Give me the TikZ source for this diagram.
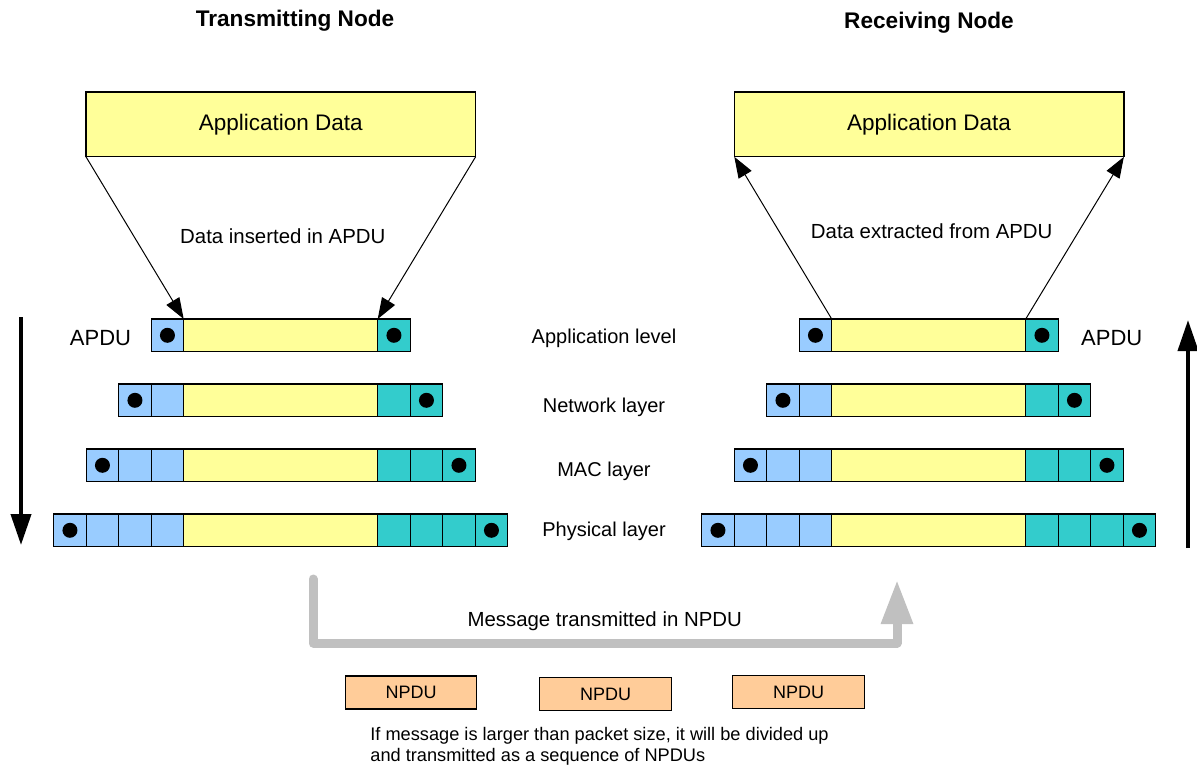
\documentclass[tikz,border=0pt]{standalone}
\usepackage{fontspec}
\setmainfont{Liberation Sans}
\usetikzlibrary{arrows.meta}
\definecolor{hdrblue}{HTML}{99CCFF}
\definecolor{paydata}{HTML}{FFFF99}
\definecolor{trlteal}{HTML}{33CCCC}
\definecolor{npduorange}{HTML}{FFCC99}
\definecolor{flowgray}{HTML}{C0C0C0}

\begin{document}
\begin{tikzpicture}[x=0.5pt,y=-0.5pt,
  cell/.style={draw, line width=0.65pt, minimum width=16.25pt, minimum height=16.3pt,
    inner sep=0pt, outer sep=0pt, anchor=north west},
  hdr/.style={cell, fill=hdrblue},
  trl/.style={cell, fill=trlteal},
  payload/.style={cell, fill=paydata, minimum width=97pt},
  blackdot/.style={circle, fill=black, minimum size=7.5pt, inner sep=0pt},
  databox/.style={draw, line width=0.65pt, fill=paydata, minimum width=194.8pt,
    minimum height=32.4pt, inner sep=0pt, outer sep=0pt, anchor=north west,
    font=\fontsize{11.25pt}{13pt}\selectfont},
  title/.style={anchor=base, inner sep=0pt, font=\fontsize{11.3pt}{13pt}\selectfont\bfseries},
  lbl/.style={anchor=base, inner sep=0pt, font=\fontsize{10pt}{12pt}\selectfont},
  apdu/.style={anchor=base, inner sep=0pt, font=\fontsize{11pt}{13pt}\selectfont},
  npdubox/.style={draw, line width=0.65pt, fill=npduorange, minimum width=65.8pt,
    minimum height=16.4pt, inner sep=0pt, font=\fontsize{9pt}{11pt}\selectfont},
  note/.style={anchor=base west, inner sep=0pt, font=\fontsize{9.1pt}{11pt}\selectfont},
  thinarr/.style={line width=0.5pt, -{Triangle[length=10.5pt,width=7.5pt]}},
  bigarr/.style={line width=2pt, -{Triangle[length=15.5pt,width=10pt]}},
  flowarr/.style={draw=flowgray, line width=4.5pt, line cap=round, line join=round,
    -{Triangle[length=22pt,width=15pt]}}
]
\useasboundingbox (0,0) rectangle (1197,765);

% titles
\node[title] (ttx) at (295,27) {Transmitting Node};
\node[title] (trx) at (929,29) {Receiving Node};

% application data boxes
\node[databox] (appL) at (86,92) {Application Data};
\node[databox] (appR) at (734.3,92) {Application Data};

% protocol data units: header cells, payload, trailer cells for each layer
\foreach \side/\xb in {L/183.7, R/831.7} {
  \foreach \r in {1,...,4} {
    \pgfmathsetmacro\yt{319+65*(\r-1)}
    \node[payload] (\side\r p) at (\xb,\yt) {};
    \foreach \k in {1,...,\r} {
      \node[hdr] (\side\r h\k) at ({\xb-\k*32.5},\yt) {};
      \node[trl] (\side\r t\k) at ({\xb+194+(\k-1)*32.5},\yt) {};
    }
    \node[blackdot] (\side\r hd) at (\side\r h\r.center) {};
    \node[blackdot] (\side\r td) at (\side\r t\r.center) {};
  }
}

% insertion / extraction of application data
\draw[thinarr] (appL.south west) -- (L1p.north west);
\draw[thinarr] (appL.south east) -- (L1p.north east);
\draw[thinarr] (R1p.north west) -- (appR.south west);
\draw[thinarr] (R1p.north east) -- (appR.south east);
\node[lbl, font=\fontsize{10.2pt}{12pt}\selectfont] (ins) at (282.8,243.3) {Data inserted in APDU};
\node[lbl, font=\fontsize{10.2pt}{12pt}\selectfont] (ext) at (931.7,238.3) {Data extracted from APDU};

% APDU tags
\node[apdu] (apduL) at (100.5,345) {APDU};
\node[apdu] (apduR) at (1111.7,345) {APDU};

% layer names
\node[lbl] (lvapp) at (604,343.3) {Application level};
\node[lbl] (lvnet) at (604,412.7) {Network layer};
\node[lbl] (lvmac) at (604,476) {MAC layer};
\node[lbl] (lvphy) at (604,536.7) {Physical layer};

% direction through the stacks
\coordinate (downA) at (21,317);
\coordinate (downB) at (21,545);
\coordinate (upA) at (1188,548);
\coordinate (upB) at (1188,320);
\draw[bigarr] (downA) -- (downB);
\draw[bigarr] (upA) -- (upB);

% transmission between the nodes
\coordinate (flowS) at (313,579);
\coordinate (flowE) at (897,580);
\draw[flowarr] (flowS) -- (313,643) -- (897,643) -- (flowE);
\node[lbl, font=\fontsize{10.2pt}{12pt}\selectfont] (msg) at (604.7,626.7) {Message transmitted in NPDU};

% packet sequence
\node[npdubox] (np1) at (411,692.5) {NPDU};
\node[npdubox] (np2) at (605.5,694) {NPDU};
\node[npdubox] (np3) at (798.5,692) {NPDU};
\node[note] (noteA) at (370,740) {If message is larger than packet size, it will be divided up};
\node[note] (noteB) at (370,761.5) {and transmitted as a sequence of NPDUs};
\end{tikzpicture}
\end{document}
